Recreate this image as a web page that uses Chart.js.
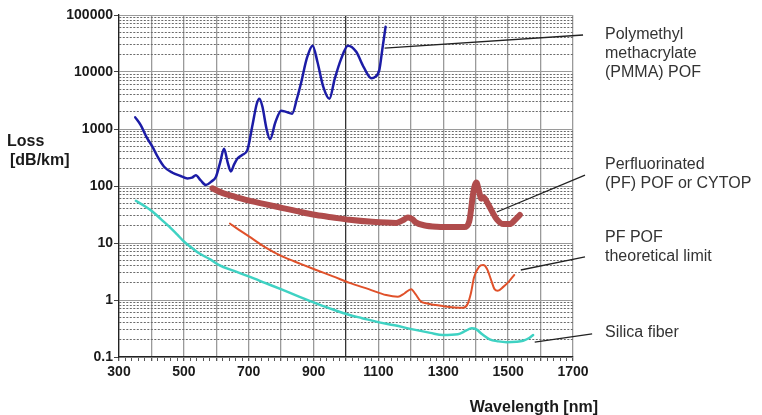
<!DOCTYPE html>
<html>
<head>
<meta charset="utf-8">
<script src="https://cdn.jsdelivr.net/npm/chart.js@4"></script>
<style>
  body { margin: 0; background: #fff; }
  canvas { display: block; }
</style>
</head>
<body>
<canvas id="loss-chart" width="762" height="415"></canvas>
<script>
// Wavelength ticks / labels
const xLabels = [300, 500, 700, 900, 1100, 1300, 1500, 1700];
const yDecades = [0.1, 1, 10, 100, 1000, 10000, 100000];

// PMMA POF
const pmmaNm = [350, 367, 385, 403, 420, 439, 465, 490, 511, 525, 537, 552, 568, 585, 599, 612, 624, 635, 645, 655, 666, 680, 696, 712, 725, 733, 742, 755, 766, 782, 800, 815, 834, 848, 861, 880, 897, 912, 930, 949, 965, 985, 1006, 1031, 1055, 1078, 1090, 1103, 1112, 1122];
const pmmaLoss = [1600, 1170, 720, 490, 320, 218, 171, 150, 136, 140, 155, 125, 104, 120, 145, 260, 450, 260, 180, 240, 306, 350, 430, 1200, 2800, 3400, 2500, 1000, 660, 1300, 2100, 2000, 1860, 3300, 6300, 18000, 29000, 15000, 5500, 3400, 7500, 17000, 29000, 22800, 12000, 7800, 8200, 11000, 25000, 62000];

// Perfluorinated POF (CYTOP)
const pfNm = [588, 620, 660, 691, 750, 805, 860, 908, 960, 1011, 1080, 1155, 1175, 1191, 1205, 1215, 1240, 1280, 1340, 1365, 1380, 1393, 1402, 1410, 1417, 1425, 1435, 1450, 1465, 1485, 1505, 1520, 1536];
const pfLoss = [91, 75, 64, 57, 48, 41, 35, 31, 28, 25.5, 23.5, 22.5, 25, 28, 26, 23, 20.5, 19.3, 19, 19, 24, 80, 115, 82, 60, 63, 52, 36, 26, 21.5, 21.5, 25, 31];

// PF POF theoretical limit
const limitNm = [642, 670, 702, 750, 805, 860, 908, 960, 1011, 1070, 1124, 1160, 1180, 1201, 1215, 1230, 1248, 1300, 1361, 1375, 1385, 1395, 1410, 1423, 1435, 1448, 1458, 1468, 1485, 1502, 1519];
const limitLoss = [22, 17, 12.9, 8.5, 5.75, 4.3, 3.36, 2.6, 2.0, 1.55, 1.22, 1.14, 1.3, 1.55, 1.25, 0.95, 0.875, 0.78, 0.73, 0.85, 1.3, 2.5, 3.8, 4.1, 3.5, 2.2, 1.55, 1.45, 1.7, 2.1, 2.75];

// Silica fiber
const silicaNm = [352, 380, 403, 430, 455, 480, 501, 525, 547, 580, 609, 650, 702, 750, 805, 855, 908, 960, 1011, 1050, 1093, 1150, 1206, 1260, 1299, 1345, 1370, 1387, 1402, 1420, 1443, 1470, 1495, 1525, 1546, 1565, 1577];
const silicaLoss = [55, 44, 35.6, 26, 19.4, 14, 10.5, 8.2, 6.6, 5.2, 4.1, 3.3, 2.57, 2.0, 1.5, 1.15, 0.875, 0.68, 0.545, 0.48, 0.417, 0.36, 0.305, 0.265, 0.243, 0.25, 0.29, 0.318, 0.305, 0.25, 0.204, 0.188, 0.182, 0.185, 0.193, 0.215, 0.243];

// Side labels: text lines, anchor value (first line), leader line from/to in data units
const noteLines = [
  ["Polymethyl", "methacrylate", "(PMMA) POF"],
  ["Perfluorinated", "(PF) POF or CYTOP"],
  ["PF POF", "theoretical limit"],
  ["Silica fiber"]
];
const noteAnchor = [44600, 234, 12.2, 0.264];
const leaderFrom = [[1119, 26300], [1465, 35], [1539, 3.36], [1582, 0.183]];
const leaderTo = [[1731, 44600], [1737, 155], [1737, 5.7], [1759, 0.254]];

function pairs(xs, ys) {
  return xs.map((x, i) => ({ x: x, y: ys[i] }));
}

function isDecade(v) {
  const l = Math.log10(v);
  return Math.abs(l - Math.round(l)) < 1e-9;
}

function series(data, color, width) {
  return {
    data: data,
    borderColor: color,
    borderWidth: width,
    pointRadius: 0,
    fill: false,
    cubicInterpolationMode: "monotone",
    borderCapStyle: "round",
    borderJoinStyle: "round",
  };
}

// Labels and leader lines drawn round the plot
const notesPlugin = {
  id: "notes",
  afterDraw(chart) {
    const ctx = chart.ctx;
    const xs = chart.scales.x;
    const ys = chart.scales.y;
    const area = chart.chartArea;
    ctx.save();

    // leader lines
    ctx.strokeStyle = "#222";
    ctx.lineWidth = 1.3;
    leaderFrom.forEach((p, i) => {
      const q = leaderTo[i];
      ctx.beginPath();
      ctx.moveTo(xs.getPixelForValue(p[0]), ys.getPixelForValue(p[1]));
      ctx.lineTo(xs.getPixelForValue(q[0]), ys.getPixelForValue(q[1]));
      ctx.stroke();
    });

    // note texts
    ctx.fillStyle = "#333";
    ctx.font = "16px 'Liberation Sans', Arial, sans-serif";
    ctx.textAlign = "left";
    ctx.textBaseline = "middle";
    noteLines.forEach((lines, i) => {
      const y0 = ys.getPixelForValue(noteAnchor[i]);
      lines.forEach((t, j) => {
        ctx.fillText(t, area.right + 32, y0 + j * 19);
      });
    });

    // axis titles
    ctx.fillStyle = "#1a1a1a";
    ctx.font = "bold 16px 'Liberation Sans', Arial, sans-serif";
    ctx.fillText("Loss", 7, 142);
    ctx.fillText("[dB/km]", 10, 161);
    ctx.textAlign = "right";
    ctx.fillText("Wavelength [nm]", area.right + 25, 408);
    ctx.restore();
  },
};

const lossCtx = document.getElementById("loss-chart").getContext("2d");
new Chart(lossCtx, {
  type: "line",
  data: {
    datasets: [
      series(pairs(silicaNm, silicaLoss), "#3fd2c3", 2.5),
      series(pairs(limitNm, limitLoss), "#e0512a", 2),
      series(pairs(pfNm, pfLoss), "#b04c4c", 6),
      series(pairs(pmmaNm, pmmaLoss), "#1c1ca6", 2.5),
    ],
  },
  options: {
    responsive: false,
    animation: false,
    devicePixelRatio: 1,
    layout: { padding: { left: 0, right: 189, top: 15, bottom: 0 } },
    plugins: {
      legend: { display: false },
      tooltip: { enabled: false },
    },
    scales: {
      x: {
        type: "linear",
        min: 300,
        max: 1700,
        afterFit(scale) { scale.height = 58; },
        ticks: {
          stepSize: 20,
          autoSkip: false,
          maxRotation: 0,
          padding: 3,
          color: "#1a1a1a",
          font: { family: "'Liberation Sans', Arial, sans-serif", size: 14, weight: "bold" },
          callback: (v) => (xLabels.includes(v) ? String(v) : ""),
        },
        grid: {
          tickLength: 4,
          color: (c) => {
            if (!c.tick) return "#999";
            const v = Math.round(c.tick.value);
            if (v % 100 !== 0) return "rgba(0,0,0,0)";
            return v === 1000 ? "#333" : "#9a9a9a";
          },
          tickColor: "#555",
          lineWidth: (c) => (c.tick && Math.round(c.tick.value) % 100 === 0 ? 1.3 : 1),
        },
        border: { color: "#222", width: 1.3 },
      },
      y: {
        type: "logarithmic",
        min: 0.1,
        max: 100000,
        afterFit(scale) { scale.width = 119; },
        afterBuildTicks(scale) {
          const ticks = [];
          for (let d = 0; d < yDecades.length; d++) {
            const base = yDecades[d];
            if (d === yDecades.length - 1) {
              ticks.push({ value: base });
              break;
            }
            for (let m = 1; m <= 9; m++) {
              ticks.push({ value: parseFloat((m * base).toPrecision(6)) });
            }
          }
          scale.ticks = ticks;
        },
        ticks: {
          autoSkip: false,
          padding: 1,
          color: "#1a1a1a",
          font: { family: "'Liberation Sans', Arial, sans-serif", size: 14, weight: "bold" },
          callback: (v) => (isDecade(v) ? String(yDecades.find((d) => Math.abs(d - v) < d * 1e-6)) : ""),
        },
        grid: {
          tickLength: 5,
          color: (c) => (c.tick && isDecade(c.tick.value) ? "#9a9a9a" : "#6a6a6a"),
          tickColor: (c) => (c.tick && isDecade(c.tick.value) ? "#444" : "rgba(0,0,0,0)"),
          lineWidth: 1,
        },
        border: {
          color: "#222",
          width: 1.3,
          dash: (c) => (c.tick && !isDecade(c.tick.value) ? [2, 1.5] : []),
        },
      },
    },
  },
  plugins: [notesPlugin],
});
</script>
</body>
</html>
